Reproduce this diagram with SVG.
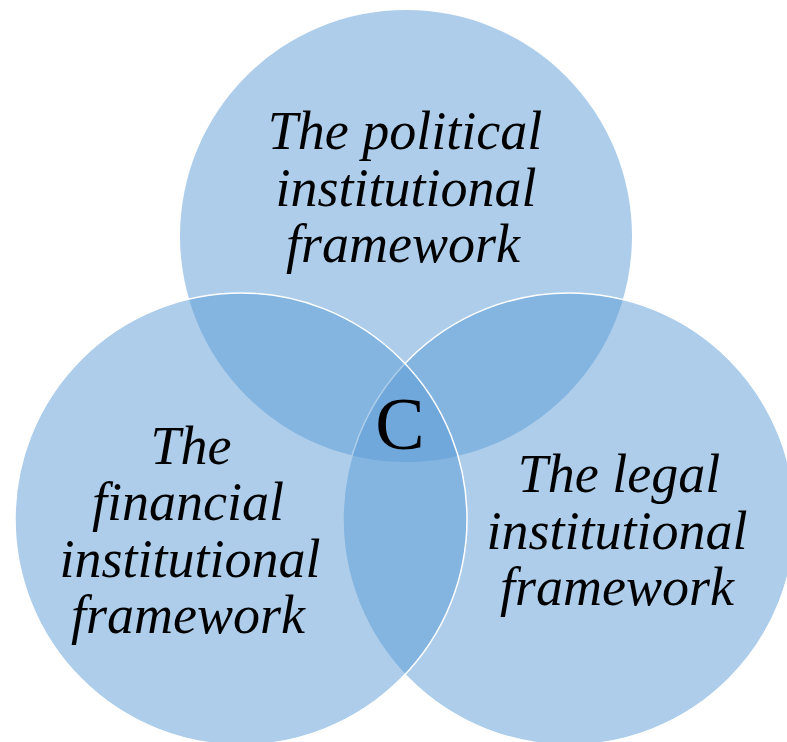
<svg xmlns="http://www.w3.org/2000/svg" width="787" height="742" viewBox="0 0 787 742">
<style>
.c{fill:#5B9BD5;fill-opacity:0.5}
.s{stroke:#ffffff;stroke-width:1.5}
.t{font-family:"Liberation Serif","Times New Roman",serif;font-style:italic;font-size:54px;fill:#000;text-anchor:middle}
.m{font-family:"Liberation Serif","Times New Roman",serif;font-size:74px;fill:#000;text-anchor:middle}
</style>
<rect width="787" height="742" fill="#ffffff"/>
<g id="political">
<circle class="c" cx="406" cy="236" r="226"/>
<text class="t" x="405" y="149">The political</text>
<text class="t" x="406" y="206">institutional</text>
<text class="t" x="403" y="262">framework</text>
</g>
<g id="legal">
<circle class="c s" cx="569" cy="519" r="226"/>
<text class="t" x="619" y="492">The legal</text>
<text class="t" x="617" y="549">institutional</text>
<text class="t" x="617" y="605">framework</text>
</g>
<g id="financial">
<circle class="c s" cx="241" cy="519" r="226"/>
<text class="t" x="191" y="464">The</text>
<text class="t" x="188" y="520">financial</text>
<text class="t" x="190" y="577">institutional</text>
<text class="t" x="188" y="633">framework</text>
</g>
<g id="center">
<text class="m" x="400" y="449">C</text>
</g>
</svg>
